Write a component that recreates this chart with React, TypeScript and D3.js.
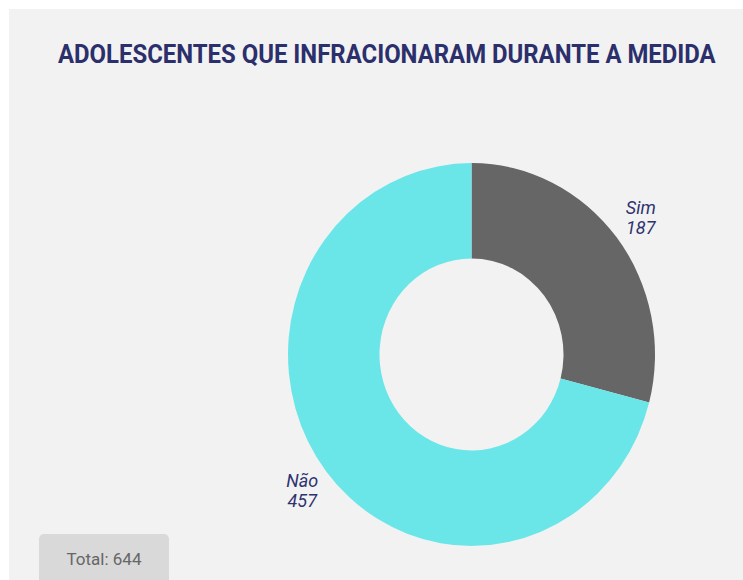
import React, { useLayoutEffect, useRef, useState } from 'react';
import * as d3 from 'd3';

const TITLE = 'ADOLESCENTES QUE INFRACIONARAM DURANTE A MEDIDA';
const CATEGORIES = ['Sim', 'Não'];
const VALUES = [187, 457];
const COLORS = ['#666666', '#6ae6e8'];
const TOTAL_LABEL = 'Total: 644';

export default function App() {
  const width = 743;
  const height = 580;
  const cx = 471.5;
  const cy = 354.5;
  const outerR = 183.5;
  const innerR = 92;
  const yStretch = 1.043;
  const labelR = 214;

  // squeeze the title to the reference width (condensed look)
  const titleRef = useRef<SVGTextElement>(null);
  const [titleScale, setTitleScale] = useState(1);
  useLayoutEffect(() => {
    if (!titleRef.current) return;
    const w = titleRef.current.getComputedTextLength();
    if (w > 0) setTitleScale(658 / w);
  }, []);

  const data = CATEGORIES.map((c, i) => ({ name: c, value: VALUES[i], color: COLORS[i] }));
  const pie = d3.pie<{ name: string; value: number; color: string }>()
    .value(d => d.value)
    .sort(null);
  const arcs = pie(data);
  const arc = d3.arc<d3.PieArcDatum<any>>().innerRadius(innerR).outerRadius(outerR);

  return (
    <svg width={width} height={height} style={{ position: 'absolute', left: 0, top: 0, fontFamily: 'Roboto, sans-serif' }}>
      <rect x={0} y={0} width={width} height={height} fill="#ffffff" />
      <rect x={9} y={9} width={width - 9} height={height - 9} fill="#f2f2f2" />
      <g transform={`translate(58,63) scale(${titleScale},1)`}>
        <text ref={titleRef} x={0} y={0} fontSize={25} fontWeight={700} fill="#2b2f6b">{TITLE}</text>
      </g>

      <g transform={`translate(${cx},${cy}) scale(1,${yStretch})`}>
        {arcs.map((a, i) => (
          <path key={i} d={arc(a) || ''} fill={a.data.color} />
        ))}
      </g>

      {arcs.map((a, i) => {
        const mid = (a.startAngle + a.endAngle) / 2;
        const lx = cx + Math.sin(mid) * labelR;
        const ly = cy - Math.cos(mid) * labelR * yStretch;
        return (
          <text key={i} textAnchor="middle" fontSize={18} fontStyle="italic" fill="#2f3270">
            <tspan x={lx} y={ly - 4}>{a.data.name}</tspan>
            <tspan x={lx} y={ly + 16}>{a.data.value}</tspan>
          </text>
        );
      })}

      <rect x={39} y={534} width={130} height={56} rx={5} fill="#d9d9d9" />
      <text x={104} y={565} textAnchor="middle" fontSize={17} fill="#666666">{TOTAL_LABEL}</text>
    </svg>
  );
}
